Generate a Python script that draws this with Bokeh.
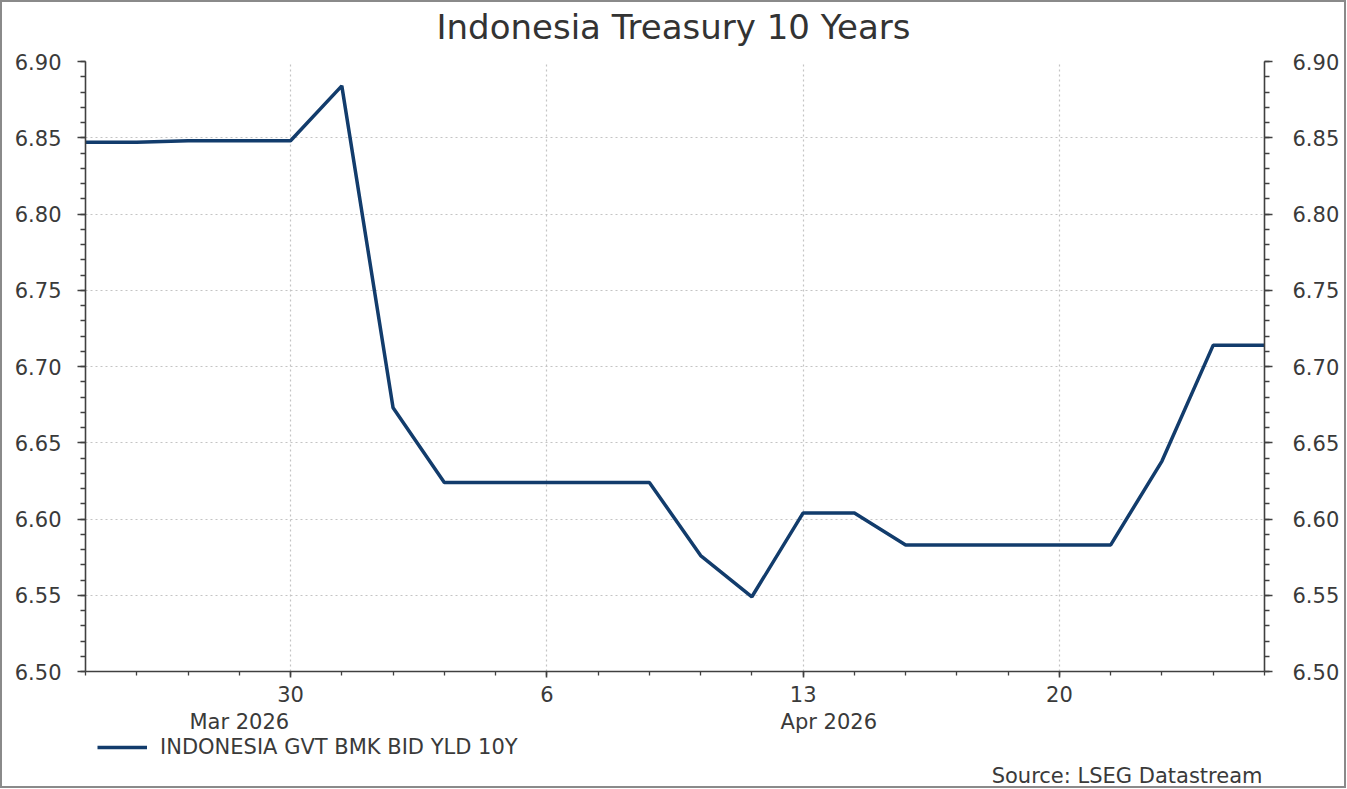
from datetime import date
from bokeh.plotting import figure
from bokeh.layouts import column
from bokeh.models import (FixedTicker, SingleIntervalTicker, LinearAxis, Label,
                          Legend, LegendItem, NumeralTickFormatter, Range1d)
from bokeh.embed import file_html
from bokeh.resources import INLINE

# ---- data (business days) ----
dates = ["2026-03-24", "2026-03-25", "2026-03-26", "2026-03-27",
         "2026-03-30", "2026-03-31", "2026-04-01", "2026-04-02", "2026-04-03",
         "2026-04-06", "2026-04-07", "2026-04-08", "2026-04-09", "2026-04-10",
         "2026-04-13", "2026-04-14", "2026-04-15", "2026-04-16", "2026-04-17",
         "2026-04-20", "2026-04-21", "2026-04-22", "2026-04-23", "2026-04-24"]
yields = [6.847, 6.847, 6.848, 6.848,
          6.848, 6.884, 6.673, 6.624, 6.624,
          6.624, 6.624, 6.624, 6.576, 6.549,
          6.604, 6.604, 6.583, 6.583, 6.583,
          6.583, 6.583, 6.638, 6.714, 6.714]
series_name = "INDONESIA GVT BMK BID YLD 10Y"
month_labels = ["Mar 2026", "Apr 2026"]
month_label_pos = [3.0, 14.5]
y_min, y_max = 6.50, 6.90

title_text = "Indonesia Treasury 10 Years"
source_text = "Source: LSEG Datastream"

parsed = [date.fromisoformat(d) for d in dates]
xs = list(range(len(dates)))
monday_idx = [i for i, d in enumerate(parsed) if d.weekday() == 0]
overrides = {i: str(parsed[i].day) for i in monday_idx}
month_overrides = {pos: lbl for pos, lbl in zip(month_label_pos, month_labels)}

TXT = "#3a3a3a"
AX = "#404040"
FONT = "DejaVu Sans"
LINE = "#123c6c"
W = 1346


def bare(height):
    f = figure(width=W, height=height, output_backend="svg", toolbar_location=None,
               x_range=Range1d(0, 1), y_range=Range1d(0, 1),
               x_axis_location=None, y_axis_location=None)
    f.min_border = 0
    f.outline_line_color = None
    f.background_fill_color = None
    f.border_fill_color = None
    f.grid.visible = False
    return f


# ---- title strip ----
p0 = bare(48)
p0.add_layout(Label(x=588, y=22, x_units="screen", y_units="screen",
                    text=title_text, text_align="center", text_baseline="middle",
                    text_font=FONT, text_font_size="34px", text_color="#333333"))

# ---- main chart ----
p = figure(width=W, height=688, output_backend="svg", toolbar_location=None,
           x_range=Range1d(0, len(dates) - 1), y_range=Range1d(y_min, y_max),
           x_axis_location=None, y_axis_location=None)
p.frame_width = 1179
p.frame_height = 610
p.min_border_left = 85
p.min_border_right = 82
p.min_border_top = 13
p.min_border_bottom = 65
p.outline_line_color = None
p.background_fill_color = "white"
p.border_fill_color = None

xt = FixedTicker(ticks=monday_idx, minor_ticks=xs)
yt = SingleIntervalTicker(interval=0.05, num_minor_ticks=5)

xaxis = LinearAxis(ticker=xt, major_label_overrides=overrides)
maxis = LinearAxis(ticker=FixedTicker(ticks=month_label_pos, minor_ticks=[]),
                   major_label_overrides=month_overrides)
yaxis_l = LinearAxis(ticker=yt, formatter=NumeralTickFormatter(format="0.00"))
yaxis_r = LinearAxis(ticker=yt, formatter=NumeralTickFormatter(format="0.00"))

for ax in (xaxis, maxis, yaxis_l, yaxis_r):
    ax.axis_line_color = AX
    ax.axis_line_width = 1.6
    ax.major_tick_line_color = AX
    ax.minor_tick_line_color = AX
    ax.major_tick_line_width = 1.6
    ax.minor_tick_line_width = 1.3
    ax.major_tick_in = 0
    ax.minor_tick_in = 0
    ax.major_label_text_color = TXT
    ax.major_label_text_font = FONT
    ax.major_label_text_font_size = "21px"

xaxis.major_tick_out = 6
xaxis.minor_tick_out = 4
xaxis.major_label_standoff = 8
maxis.axis_line_color = None
maxis.major_tick_line_color = None
maxis.minor_tick_line_color = None
maxis.major_tick_out = 0
maxis.minor_tick_out = 0
maxis.major_label_standoff = 5
yaxis_l.major_tick_out = 8
yaxis_l.minor_tick_out = 5
yaxis_l.major_label_standoff = 16
yaxis_r.major_tick_out = 8
yaxis_r.minor_tick_out = 5
yaxis_r.major_label_standoff = 20

p.add_layout(xaxis, "below")
p.add_layout(maxis, "below")
p.add_layout(yaxis_l, "left")
p.add_layout(yaxis_r, "right")

p.xgrid.ticker = xt
p.ygrid.ticker = yt
for g in (p.xgrid, p.ygrid):
    g.grid_line_color = "#c4c4c4"
    g.grid_line_dash = "2 3"
    g.grid_line_width = 1.2

r = p.line(xs, yields, line_color=LINE, line_width=3.5)

# ---- legend / source strip (series drawn out of view; used only for the key) ----
p2 = bare(52)
r2 = p2.line(xs, yields, line_color=LINE, line_width=3.5)
legend = Legend(items=[LegendItem(label=series_name, renderers=[r2])],
                location=(12, 29), padding=0, margin=0, spacing=0,
                glyph_width=50, glyph_height=18, label_standoff=13,
                border_line_color=None, background_fill_alpha=0,
                label_text_font=FONT, label_text_font_size="21px",
                label_text_color=TXT)
p2.add_layout(legend)
p2.add_layout(Label(x=1177, y=13, x_units="screen", y_units="screen",
                    text=source_text, text_align="right", text_baseline="middle",
                    text_font=FONT, text_font_size="21px", text_color=TXT))

layout = column(p0, p, p2, spacing=0)
layout.styles = {"background-color": "white",
                 "box-shadow": "inset 0 0 0 2px #8a8a8a"}

open("out.html", "w").write(file_html(layout, INLINE))
